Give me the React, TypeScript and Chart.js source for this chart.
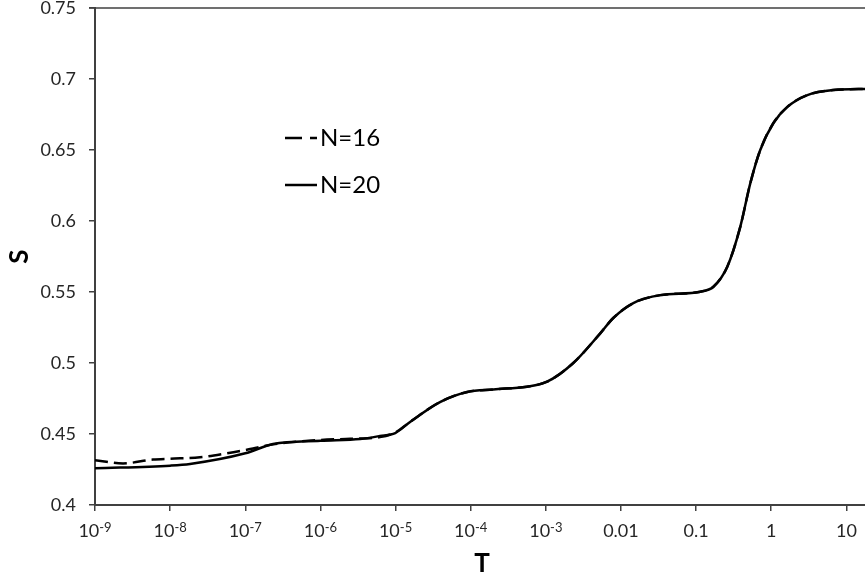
import React, { useEffect, useRef } from "react";
import { Chart, registerables } from "chart.js";

Chart.register(...registerables);

const X_TICKS = [1e-9, 1e-8, 1e-7, 1e-6, 1e-5, 1e-4, 1e-3, 0.01, 0.1, 1, 10];
const X_TICK_LABELS = ["10^-9", "10^-8", "10^-7", "10^-6", "10^-5", "10^-4", "10^-3", "0.01", "0.1", "1", "10"];

const T_N16 = [1e-9, 2.36e-9, 5.9e-9, 1e-8, 2.5e-8, 5.7e-8, 1e-7, 2.34e-7, 1e-6, 2.5e-6, 6.2e-6, 9.9e-6, 1.56e-5, 3.9e-5, 9e-5, 2e-4, 5.6e-4, 1.04e-3, 2.3e-3, 5.3e-3, 7.9e-3, 0.0146, 0.0333, 0.114, 0.17, 0.26, 0.387, 0.526, 0.714, 1.07, 1.64, 3.03, 6.7, 20];
const S_N16 = [0.4315, 0.4293, 0.432, 0.4326, 0.4336, 0.4364, 0.4387, 0.4427, 0.4458, 0.4466, 0.4478, 0.451, 0.4585, 0.4725, 0.4796, 0.4814, 0.4833, 0.4868, 0.4998, 0.5209, 0.5317, 0.5422, 0.5478, 0.5502, 0.5537, 0.5678, 0.5959, 0.6265, 0.65, 0.669, 0.6804, 0.6887, 0.6922, 0.693];

const T_N20 = [1e-9, 1e-8, 1.84e-8, 1e-7, 2.34e-7, 1e-6, 3.4e-6, 6.2e-6, 9.9e-6, 1.56e-5, 3.9e-5, 9e-5, 2e-4, 5.6e-4, 1.04e-3, 2.3e-3, 5.3e-3, 7.9e-3, 0.0146, 0.0333, 0.114, 0.17, 0.26, 0.387, 0.526, 0.714, 1.07, 1.64, 3.03, 6.7, 20];
const S_N20 = [0.4258, 0.4277, 0.4289, 0.4364, 0.443, 0.4453, 0.4465, 0.4486, 0.4507, 0.4585, 0.4725, 0.4796, 0.4814, 0.4833, 0.4868, 0.4998, 0.5209, 0.5317, 0.5422, 0.5478, 0.5502, 0.5537, 0.5678, 0.5959, 0.6265, 0.65, 0.669, 0.6804, 0.6887, 0.6922, 0.693];

const SERIES_LABELS = ["N=16", "N=20"];
const X_TITLE = "T";
const Y_TITLE = "S";

const FONT = "Lato, 'Open Sans', sans-serif";
const AXIS_COLOR = "#404040";
const TICK_COLOR = "#262626";

const extrasPlugin = {
  id: "extras",
  afterDraw(chart: any) {
    const { ctx, chartArea } = chart;
    ctx.save();
    // top border of the plot area
    ctx.strokeStyle = AXIS_COLOR;
    ctx.lineWidth = 1.5;
    ctx.beginPath();
    ctx.moveTo(chartArea.left - 6, chartArea.top);
    ctx.lineTo(chartArea.right, chartArea.top);
    ctx.stroke();

    // x tick labels with superscript exponents
    const xs = chart.scales.x;
    const baseY = chartArea.bottom + 32;
    ctx.fillStyle = TICK_COLOR;
    ctx.textBaseline = "alphabetic";
    ctx.textAlign = "left";
    X_TICKS.forEach((v, i) => {
      const px = xs.getPixelForValue(v);
      const [base, exp] = X_TICK_LABELS[i].split("^");
      ctx.font = `18px ${FONT}`;
      const wb = ctx.measureText(base).width;
      let we = 0;
      if (exp) {
        ctx.font = `13px ${FONT}`;
        we = ctx.measureText(exp).width;
      }
      const start = px - (wb + we) / 2;
      ctx.font = `18px ${FONT}`;
      ctx.fillText(base, start, baseY);
      if (exp) {
        ctx.font = `13px ${FONT}`;
        ctx.fillText(exp, start + wb, baseY - 5);
      }
    });

    // legend
    const lx = chartArea.left + 190;
    const ly0 = chartArea.top + 130;
    const gap = 47;
    chart.data.datasets.forEach((ds: any, i: number) => {
      const y = ly0 + i * gap;
      ctx.strokeStyle = "#000";
      ctx.lineWidth = 2.5;
      ctx.setLineDash(ds.borderDash && ds.borderDash.length ? [17, 8] : []);
      ctx.beginPath();
      ctx.moveTo(lx, y);
      ctx.lineTo(lx + 32, y);
      ctx.stroke();
      ctx.setLineDash([]);
      ctx.fillStyle = "#000";
      ctx.font = `24px ${FONT}`;
      ctx.textBaseline = "middle";
      ctx.textAlign = "left";
      ctx.fillText(ds.label, lx + 35, y);
    });
    ctx.restore();
  },
};

export default function App() {
  const canvasRef = useRef<HTMLCanvasElement | null>(null);

  useEffect(() => {
    const canvas = canvasRef.current;
    if (!canvas) return;
    const chart = new Chart(canvas, {
      type: "line",
      data: {
        datasets: [
          {
            label: SERIES_LABELS[0],
            data: T_N16.map((t, i) => ({ x: t, y: S_N16[i] })),
            borderColor: "#000",
            borderWidth: 2.5,
            borderDash: [13, 6],
            pointRadius: 0,
            fill: false,
            cubicInterpolationMode: "monotone",
          },
          {
            label: SERIES_LABELS[1],
            data: T_N20.map((t, i) => ({ x: t, y: S_N20[i] })),
            borderColor: "#000",
            borderWidth: 2.5,
            pointRadius: 0,
            fill: false,
            cubicInterpolationMode: "monotone",
          },
        ],
      },
      options: {
        animation: false,
        responsive: false,
        devicePixelRatio: 1,
        layout: { padding: { top: 8, right: 12, left: 0, bottom: 0 } },
        plugins: {
          legend: { display: false },
          tooltip: { enabled: false },
        },
        scales: {
          x: {
            type: "logarithmic",
            min: 1e-9,
            max: 20,
            afterBuildTicks: (scale: any) => {
              scale.ticks = X_TICKS.map((v) => ({ value: v }));
            },
            afterFit: (scale: any) => {
              scale.height = 74;
              scale.paddingLeft = 0;
              scale.paddingRight = 0;
            },
            ticks: {
              display: false,
              autoSkip: false,
              maxRotation: 0,
              minRotation: 0,
            },
            grid: {
              drawOnChartArea: false,
              drawTicks: true,
              tickLength: 6,
              color: AXIS_COLOR,
              lineWidth: 1.5,
            },
            border: { display: true, color: AXIS_COLOR, width: 2 },
            title: {
              display: true,
              text: X_TITLE,
              color: "#000",
              font: { family: FONT, size: 26, weight: "bold" },
              padding: { top: 0, bottom: 0 },
            },
          },
          y: {
            type: "linear",
            min: 0.4,
            max: 0.75,
            afterFit: (scale: any) => {
              scale.width = 95;
              scale.paddingTop = 0;
              scale.paddingBottom = 0;
            },
            ticks: {
              stepSize: 0.05,
              padding: 13,
              color: TICK_COLOR,
              font: { family: FONT, size: 18, lineHeight: 1 },
              callback: (v: any) => String(Number(Number(v).toFixed(2))),
            },
            grid: {
              drawOnChartArea: false,
              drawTicks: true,
              tickLength: 6,
              color: AXIS_COLOR,
              lineWidth: 1.5,
            },
            border: { display: true, color: AXIS_COLOR, width: 2 },
            title: {
              display: true,
              text: Y_TITLE,
              color: "#000",
              font: { family: FONT, size: 26, weight: "bold" },
              padding: { top: 4, bottom: 0 },
            },
          },
        },
      },
      plugins: [extrasPlugin],
    } as any);
    return () => chart.destroy();
  }, []);

  return (
    <div
      style={{
        position: "fixed",
        left: 0,
        top: 0,
        width: 865,
        height: 579,
        overflow: "hidden",
        background: "#fff",
      }}
    >
      <canvas ref={canvasRef} width={881} height={579} style={{ width: 881, height: 579, display: "block" }} />
    </div>
  );
}
